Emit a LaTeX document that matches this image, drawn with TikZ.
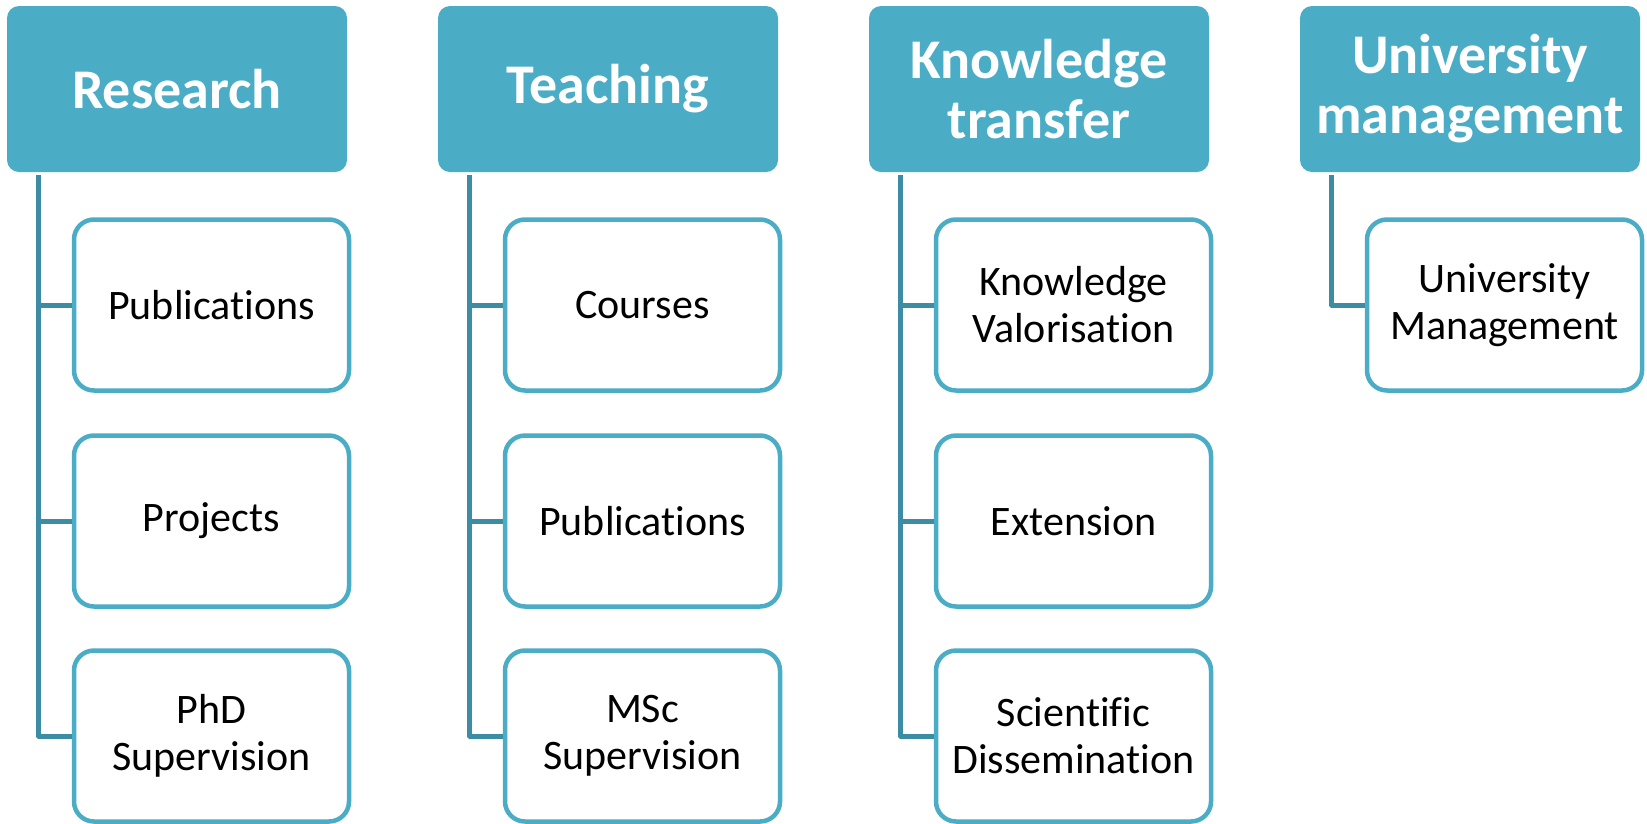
\documentclass[tikz,border=0pt]{standalone}
\usepackage{fontspec}
\setmainfont[RawFeature=-liga]{Carlito}
\definecolor{hdrfill}{HTML}{4BACC6}
\definecolor{linecol}{HTML}{3C8CA3}
\begin{document}
\begin{tikzpicture}[x=1pt,y=-1pt,
  hdr/.style={fill=hdrfill, draw=none, rounded corners=12pt, minimum width=340pt, minimum height=166pt, inner sep=0pt,
     text=white, font=\fontsize{56}{60}\selectfont\bfseries, align=center},
  child/.style={fill=white, draw=hdrfill, line width=4.5pt, rounded corners=20pt, minimum width=275pt, minimum height=171pt, inner sep=0pt,
     text=black, font=\fontsize{42}{47}\selectfont, align=center},
  conn/.style={draw=linecol, line width=5pt, line join=round}]
\useasboundingbox (0,0) rectangle (1647,823);
% headers
\node[hdr] (h1) at (177,89) {Research};
\node[hdr] (h2) at (608,89) {Teaching};
\node[hdr] (h3) at (1039,89) {Knowledge\\transfer};
\node[hdr] (h4) at (1470,89) {University\\management};
% children
\node[child] (c11) at (211.5,305) {Publications};
\node[child] (c12) at (211.5,521) {Projects};
\node[child] (c13) at (211.5,736) {PhD\\Supervision};
\node[child] (c21) at (642.5,305) {Courses};
\node[child] (c22) at (642.5,521) {Publications};
\node[child] (c23) at (642.5,736) {MSc\\Supervision};
\node[child] (c31) at (1073.5,305) {Knowledge\\Valorisation};
\node[child] (c32) at (1073.5,521) {Extension};
\node[child] (c33) at (1073.5,736) {Scientific\\Dissemination};
\node[child] (c41) at (1504.5,305) {University\\Management};
% connectors
\foreach \h/\c in {h1/c11,h1/c12,h1/c13,h2/c21,h2/c22,h2/c23,h3/c31,h3/c32,h3/c33,h4/c41}{
  \draw[conn] ([xshift=32pt,yshift=-3pt]\h.south west) |- (\c.west);
}
\end{tikzpicture}
\end{document}
